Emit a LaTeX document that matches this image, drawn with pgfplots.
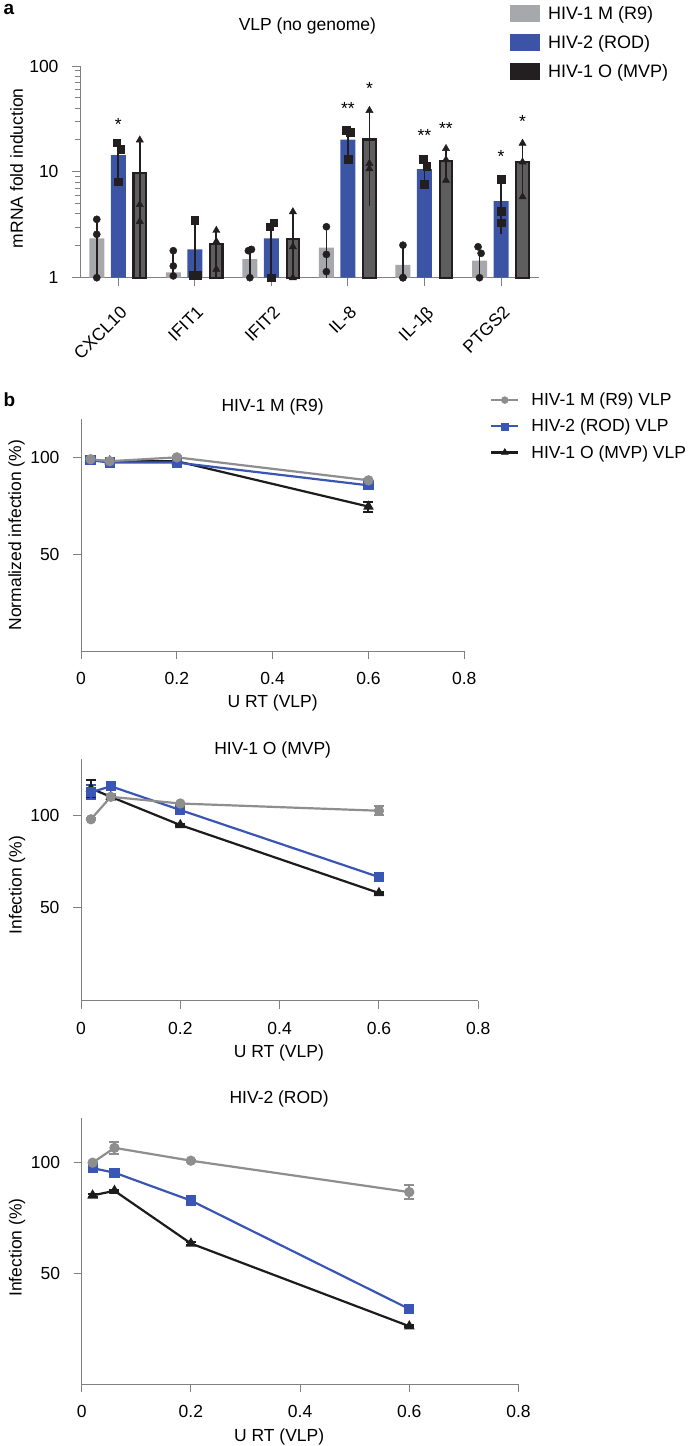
\documentclass[border=0pt]{standalone}
\usepackage{pgfplots}
\pgfplotsset{compat=1.18}
\usepackage{fontspec}
\setmainfont{Liberation Sans}
\definecolor{cgray}{HTML}{A6A8AB}
\definecolor{cblue}{HTML}{3B54A5}
\definecolor{cdark}{HTML}{5E5E5E}
\definecolor{cblack}{HTML}{231F20}
\definecolor{lgray}{HTML}{8E8E8E}
\definecolor{lblue}{HTML}{3A56B5}
\definecolor{lblack}{HTML}{1C1C1C}
\definecolor{axgray}{HTML}{808080}
\pgfplotsset{
  base/.style={
    scale only axis, anchor=south west,
    axis lines=left,
    axis line style={-, axgray, line width=1bp},
    tick style={axgray, line width=1bp},
    tick align=outside,
    major tick length=8bp,
    minor tick length=5bp,
    clip=false,
    yticklabel style={xshift=-10bp},
  },
  pb/.style={base,
    xmin=0, xmax=0.8, ymin=0,
    xtick={0,0.2,0.4,0.6,0.8}, xticklabels={0,0.2,0.4,0.6,0.8},
    xticklabel style={yshift=-10bp},
    ytick={50,100}, yticklabels={50,100},
    xlabel={U RT (VLP)},
    title style={anchor=base},
  },
  ln/.style={line width=2.2bp, mark size=4bp, mark options={solid},
    error bars/y dir=both, error bars/y explicit,
    error bars/error bar style={line width=2bp},
    error bars/error mark options={rotate=90, mark size=5bp, line width=2bp}},
}
\begin{document}
\begin{tikzpicture}[font=\fontsize{17.5bp}{21bp}\selectfont]
\useasboundingbox (0bp,0bp) rectangle (688bp,-1446bp);
\node[anchor=base west, font=\bfseries\fontsize{19bp}{21bp}\selectfont] at (0bp,-14bp) {a};
\node[anchor=base west, font=\bfseries\fontsize{19bp}{21bp}\selectfont] at (0bp,-406bp) {b};

% ---------------- panel a ----------------
\begin{axis}[base, at={(80bp,-277.7bp)},
  width=459.3bp, height=211.7bp,
  ymode=log, ymin=1, ymax=100, xmin=-0.5, xmax=5.5,
  xtick={0,1,2,3,4,5}, xticklabels={CXCL10,IFIT1,IFIT2,IL-8,IL-1β,PTGS2},
  ytick={1,10,100}, yticklabels={1,10,100},
  minor ytick={2,3,4,5,6,7,8,9,20,30,40,50,60,70,80,90},
  xticklabel style={xshift=1bp, yshift=-19bp, rotate=45, anchor=north east, inner sep=0pt},
  ylabel={mRNA fold induction},
  ylabel style={at={(axis description cs:-0.138,0.517)}, anchor=center},
  title={VLP (no genome)},
  title style={at={(axis description cs:0.495,1)}, anchor=center, yshift=34bp},
  legend image code/.code={\fill[#1] (0bp,-8.5bp) rectangle (30bp,8.5bp);},
  legend style={draw=none, fill=none, inner sep=0pt, at={(axis description cs:0.9362,1.288)}, anchor=north west,
    nodes={inner sep=0pt}, row sep=12bp, column sep=8bp, font=\fontsize{18bp}{21bp}\selectfont},
  legend cell align=left,
]
\addlegendimage{fill=cgray, draw=none}
\addlegendentry{HIV-1 M (R9)}
\addlegendimage{fill=cblue, draw=none}
\addlegendentry{HIV-2 (ROD)}
\addlegendimage{fill=cblack, draw=none}
\addlegendentry{HIV-1 O (MVP)}
% bars (means)
\addplot[ybar, forget plot, bar width=15bp, bar shift=-21.5bp, fill=cgray, draw=none]
  coordinates {(0,2.35) (1,1.12) (2,1.5) (3,1.92) (4,1.32) (5,1.45)};
\addplot[ybar, forget plot, bar width=15bp, bar shift=0bp, fill=cblue, draw=none]
  coordinates {(0,14.4) (1,1.85) (2,2.35) (3,20.2) (4,10.6) (5,5.3)};
\addplot[ybar, forget plot, bar width=12.5bp, bar shift=21.5bp, fill=cdark, draw=cblack, line width=2.2bp]
  coordinates {(0,9.7) (1,2.07) (2,2.33) (3,20.2) (4,12.6) (5,12.3)};
% error bars (low, high)
\addplot[forget plot, cblack, line width=1.8bp, unbounded coords=jump] coordinates {
  (-0.281,1) (-0.281,3.5) (-0.281,nan)
  (0.719,1) (0.719,1.8) (0.719,nan)
  (1.719,1) (1.719,2.0) (1.719,nan)
  (2.719,1) (2.719,3.0) (2.719,nan)
  (3.719,1) (3.719,2.0) (3.719,nan)
  (4.719,1) (4.719,2.0) (4.719,nan)
  (0,8.3) (0,19.5) (0,nan)
  (1,1) (1,3.5) (1,nan)
  (2,1) (2,3.6) (2,nan)
  (3,13.1) (3,25) (3,nan)
  (4,7.6) (4,13.1) (4,nan)
  (5,2.6) (5,8.5) (5,nan)
  (0.281,1) (0.281,20) (0.281,nan)
  (1.281,1) (1.281,2.9) (1.281,nan)
  (2.281,1) (2.281,4.2) (2.281,nan)
  (3.281,4.8) (3.281,38) (3.281,nan)
  (4.281,8.3) (4.281,16.6) (4.281,nan)
  (5.281,5.8) (5.281,18.6)
};
% individual points
\addplot[forget plot, only marks, mark=*, mark size=3.6bp, cblack] coordinates {
  (-0.281,3.56) (-0.281,2.57) (-0.281,1.0)
  (0.719,1.8) (0.719,1.29) (0.719,1.04)
  (1.70,1.8) (1.74,1.85) (1.719,1.0)
  (2.719,3.03) (2.719,1.66) (2.719,1.14)
  (3.719,2.03) (3.719,1.0) (3.719,1.0)
  (4.70,1.96) (4.74,1.7) (4.719,1.0)
};
\addplot[forget plot, only marks, mark=square*, mark size=3.8bp, cblack] coordinates {
  (-0.02,18.9) (0.03,16.3) (0,8.1)
  (1,3.5) (0.98,1.06) (1.03,1.06)
  (1.98,3.03) (2.03,3.3) (2,1.0)
  (2.98,24.6) (3.03,23.7) (3,13.1)
  (3.98,13.1) (4.03,11.3) (4,7.6)
  (5,8.5) (5,4.25) (5,3.3)
};
\addplot[forget plot, only marks, mark=triangle*, mark size=4.2bp, cblack] coordinates {
  (0.281,20) (0.281,4.9) (0.281,3.4)
  (1.281,2.8) (1.281,2.2) (1.281,1.2)
  (2.281,4.2) (2.281,1.96) (2.281,1.0)
  (3.281,38) (3.281,12) (3.281,10.7)
  (4.281,16.6) (4.281,13) (4.281,8.3)
  (5.281,18.6) (5.281,12.4) (5.281,5.8)
};
\node at (axis cs:0,28.2) {*};
\node at (axis cs:3,39.6) {**};
\node at (axis cs:3.281,61.2) {*};
\node at (axis cs:4,22.2) {**};
\node at (axis cs:4.281,25.7) {**};
\node at (axis cs:5,14.1) {*};
\node at (axis cs:5.281,29.6) {*};
\end{axis}

% ---------------- panel b, plot 1 ----------------
\begin{axis}[pb, at={(81bp,-651bp)}, width=383.3bp, height=231.7bp, ymax=120,
  ylabel={Normalized infection (\%)},
  ylabel style={at={(axis description cs:-0.168,0.5)}, anchor=center},
  xlabel style={at={(axis description cs:0.5,-0.225)}, anchor=center},
  title={HIV-1 M (R9)},
  title style={at={(axis description cs:0.5,1)}, yshift=2bp},
  legend image code/.code={\draw[mark repeat=2, mark phase=2, #1] plot coordinates {(0bp,0bp) (13.5bp,0bp) (27bp,0bp)};},
  legend style={draw=none, fill=none, inner sep=0pt, at={(axis description cs:1.0671,1.1144)}, anchor=north west,
    nodes={inner sep=0pt}, row sep=12bp, column sep=12bp},
  legend cell align=left,
]
\addlegendimage{lgray, line width=2.2bp, mark=*, mark size=3.5bp, mark options={solid, line width=0.4bp}}
\addlegendentry{HIV-1 M (R9) VLP}
\addlegendimage{lblue, line width=2.2bp, mark=square*, mark size=3.5bp, mark options={solid, line width=0.4bp}}
\addlegendentry{HIV-2 (ROD) VLP}
\addlegendimage{lblack, line width=2.2bp, mark=triangle*, mark size=4bp, mark options={solid, line width=0.4bp}}
\addlegendentry{HIV-1 O (MVP) VLP}
\addplot[forget plot, ln, lblack, mark=triangle*] coordinates {
  (0.02,99) +- (0,0.5) (0.06,98.3) +- (0,0.5) (0.2,98.3) +- (0,0.5) (0.6,74.8) +- (0,2.6)};
\addplot[forget plot, ln, lblue, mark=square*] coordinates {
  (0.02,98.8) +- (0,0.5) (0.06,97.6) +- (0,0.5) (0.2,97.6) +- (0,0.5) (0.6,85.8) +- (0,0.5)};
\addplot[forget plot, ln, lgray, mark=*] coordinates {
  (0.02,99.3) +- (0,0.5) (0.06,98.3) +- (0,0.5) (0.2,100.3) +- (0,0.5) (0.6,88.4) +- (0,0.6)};
\end{axis}

% ---------------- panel b, plot 2 ----------------
\begin{axis}[pb, at={(81bp,-1000.7bp)}, width=397.3bp, height=241.4bp, ymax=130,
  ylabel={Infection (\%)},
  ylabel style={at={(axis description cs:-0.161,0.479)}, anchor=center},
  xlabel style={at={(axis description cs:0.498,-0.215)}, anchor=center},
  title={HIV-1 O (MVP)},
  title style={at={(axis description cs:0.4825,1)}, yshift=-1bp},
]
\addplot[forget plot, ln, lblack, mark=triangle*] coordinates {
  (0.02,114.3) +- (0,4.7) (0.06,109.8) +- (0,0.5) (0.2,94.6) +- (0,0.5) (0.6,58) +- (0,0.8)};
\addplot[forget plot, ln, lblue, mark=square*] coordinates {
  (0.02,112.2) +- (0,3.8) (0.06,115.5) +- (0,1.5) (0.2,102.7) +- (0,1) (0.6,66.6) +- (0,2.2)};
\addplot[forget plot, ln, lgray, mark=*] coordinates {
  (0.02,97.7) +- (0,0.5) (0.06,109.8) +- (0,1.5) (0.2,106.2) +- (0,0.5) (0.6,102.3) +- (0,2.5)};
\end{axis}

% ---------------- panel b, plot 3 ----------------
\begin{axis}[pb, at={(81.7bp,-1384bp)}, width=436.8bp, height=265.6bp, ymax=120,
  ylabel={Infection (\%)},
  ylabel style={at={(axis description cs:-0.148,0.514)}, anchor=center},
  xlabel style={at={(axis description cs:0.452,-0.2)}, anchor=center},
  title={HIV-2 (ROD)},
  title style={at={(axis description cs:0.452,1)}, yshift=9bp},
]
\addplot[forget plot, ln, lblack, mark=triangle*] coordinates {
  (0.02,85.2) +- (0,0.5) (0.06,87.3) +- (0,0.5) (0.2,63.5) +- (0,0.5) (0.6,26.1) +- (0,0.5)};
\addplot[forget plot, ln, lblue, mark=square*] coordinates {
  (0.02,97.5) +- (0,0.5) (0.06,95.5) +- (0,0.5) (0.2,82.9) +- (0,2) (0.6,33.9) +- (0,0.8)};
\addplot[forget plot, ln, lgray, mark=*] coordinates {
  (0.02,100) +- (0,0.5) (0.06,106.7) +- (0,2.7) (0.2,100.9) +- (0,0.5) (0.6,86.7) +- (0,3)};
\end{axis}
\end{tikzpicture}
\end{document}
